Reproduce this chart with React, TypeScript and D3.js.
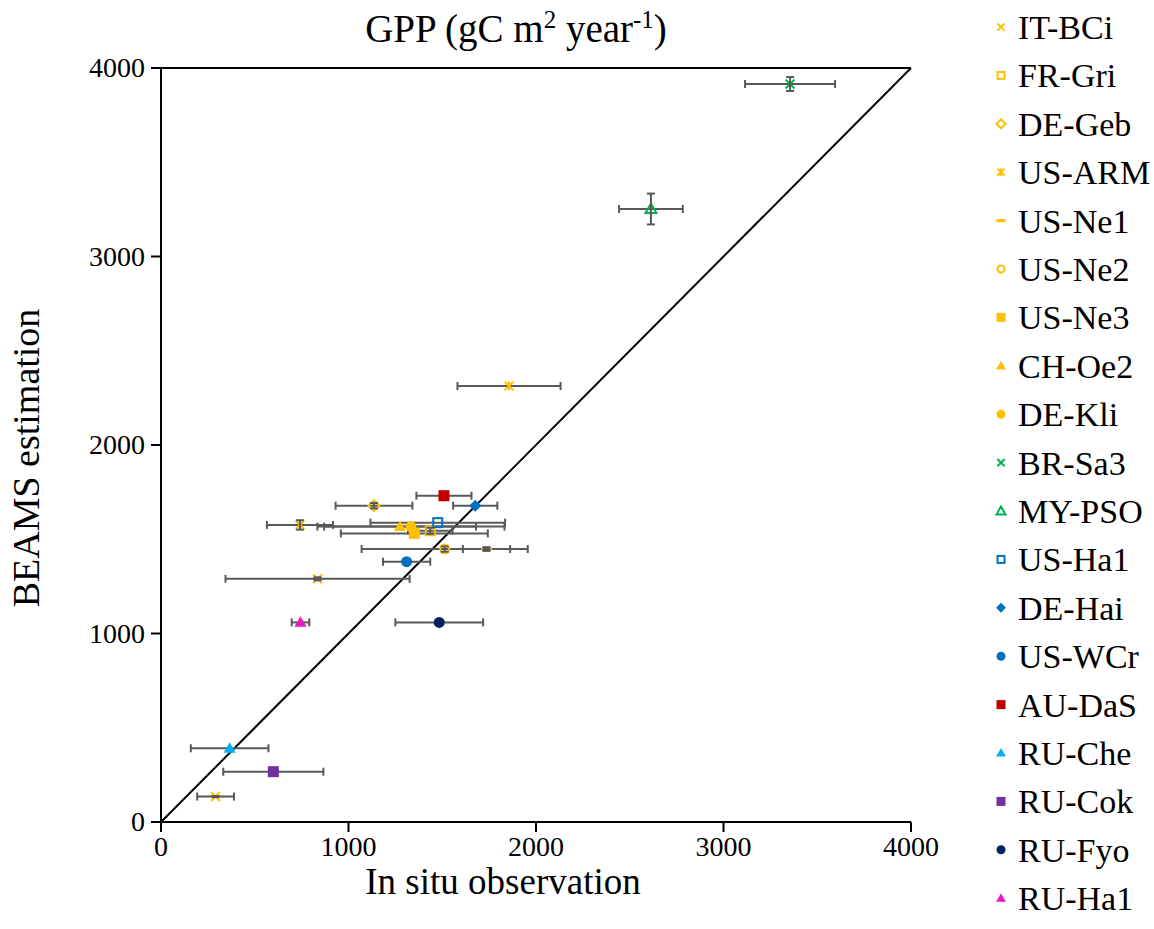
import React from "react";
import * as d3 from "d3";

// Sites shown in the legend, with their colour and marker style
const siteNames = [
  "IT-BCi", "FR-Gri", "DE-Geb", "US-ARM", "US-Ne1", "US-Ne2", "US-Ne3", "CH-Oe2", "DE-Kli",
  "BR-Sa3", "MY-PSO", "US-Ha1", "DE-Hai", "US-WCr", "AU-DaS", "RU-Che", "RU-Cok", "RU-Fyo", "RU-Ha1",
];
const siteColors = [
  "#FFC000", "#FFC000", "#FFC000", "#FFC000", "#FFC000", "#FFC000", "#FFC000", "#FFC000", "#FFC000",
  "#00B050", "#00B050", "#0070C0", "#0070C0", "#0070C0", "#C00000", "#00B0F0", "#7030A0", "#002060", "#E31BC4",
];
const siteMarkers = [
  "x", "squareOpen", "diamondOpen", "asterisk", "dash", "circleOpen", "square", "triangle", "circle",
  "x", "triangleOpen", "squareOpen", "diamond", "circle", "square", "triangle", "square", "circle", "triangle",
];

// Site-years: in situ GPP vs BEAMS estimate, with standard deviations
const pointSite = [
  "IT-BCi", "IT-BCi", "US-ARM", "US-ARM", "FR-Gri", "DE-Geb", "US-Ne1", "US-Ne2", "US-Ne3", "CH-Oe2", "DE-Kli",
  "BR-Sa3", "MY-PSO", "US-Ha1", "DE-Hai", "US-WCr", "AU-DaS", "RU-Che", "RU-Cok", "RU-Fyo", "RU-Ha1",
];
const pointObs = [835, 291, 1856, 741, 1436, 1136, 1736, 1513, 1351, 1275, 1333, 3355, 2613, 1476, 1676, 1310, 1509, 366, 599, 1484, 744];
const pointEst = [1290, 135, 2313, 1576, 1545, 1678, 1448, 1448, 1531, 1567, 1567, 3915, 3252, 1588, 1678, 1381, 1731, 391, 267, 1059, 1059];
const pointObsSd = [491, 98, 275, 176, 119, 205, 126, 443, 392, 405, 499, 240, 170, 359, 118, 126, 147, 207, 267, 234, 47];
const pointEstSd = [8, 3, 0, 25, 16, 14, 10, 14, 0, 0, 0, 37, 82, 0, 0, 0, 0, 0, 0, 0, 0];

const axisTicks = [0, 1000, 2000, 3000, 4000];

const W = 1154;
const H = 929;
const plot = { left: 161, right: 911, top: 68, bottom: 822 };
const FONT = "'Liberation Serif', 'Times New Roman', serif";
const ERR = "#595959";

function Marker({ kind, color, cx, cy, s }: { kind: string; color: string; cx: number; cy: number; s: number }) {
  const h = s / 2;
  switch (kind) {
    case "x": {
      const k = h * 0.8;
      return (
        <path d={`M${cx - k},${cy - k}L${cx + k},${cy + k}M${cx - k},${cy + k}L${cx + k},${cy - k}`} stroke={color} strokeWidth={2} fill="none" />
      );
    }
    case "asterisk": {
      const k = h * 0.8;
      return (
        <path
          d={`M${cx - k},${cy - k}L${cx + k},${cy + k}M${cx - k},${cy + k}L${cx + k},${cy - k}M${cx},${cy - k}L${cx},${cy + k}`}
          stroke={color}
          strokeWidth={2}
          fill="none"
        />
      );
    }
    case "dash":
      return <rect x={cx - h} y={cy - 1.5} width={s} height={3} fill={color} />;
    case "square":
      return <rect x={cx - h} y={cy - h} width={s} height={s} fill={color} />;
    case "squareOpen":
      return <rect x={cx - h + 1} y={cy - h + 1} width={s - 2} height={s - 2} fill="none" stroke={color} strokeWidth={2} />;
    case "circle":
      return <circle cx={cx} cy={cy} r={h} fill={color} />;
    case "circleOpen":
      return <circle cx={cx} cy={cy} r={h - 1} fill="none" stroke={color} strokeWidth={2} />;
    case "diamond":
      return <path d={`M${cx},${cy - h * 1.1}L${cx + h * 1.1},${cy}L${cx},${cy + h * 1.1}L${cx - h * 1.1},${cy}Z`} fill={color} />;
    case "diamondOpen":
      return (
        <path d={`M${cx},${cy - h}L${cx + h},${cy}L${cx},${cy + h}L${cx - h},${cy}Z`} fill="none" stroke={color} strokeWidth={2} />
      );
    case "triangle":
      return <path d={`M${cx},${cy - h * 1.1}L${cx + h * 1.1},${cy + h * 0.8}L${cx - h * 1.1},${cy + h * 0.8}Z`} fill={color} />;
    case "triangleOpen":
      return (
        <path
          d={`M${cx},${cy - h}L${cx + h},${cy + h * 0.75}L${cx - h},${cy + h * 0.75}Z`}
          fill="none"
          stroke={color}
          strokeWidth={2}
        />
      );
    default:
      return null;
  }
}

export default function App() {
  const x = d3.scaleLinear().domain([0, 4000]).range([plot.left, plot.right]);
  const y = d3.scaleLinear().domain([0, 4000]).range([plot.bottom, plot.top]);
  const cap = 4;

  const pts = pointSite.map((site, i) => {
    const k = siteNames.indexOf(site);
    return {
      color: siteColors[k],
      kind: siteMarkers[k],
      px: x(pointObs[i]),
      py: y(pointEst[i]),
      x0: x(pointObs[i] - pointObsSd[i]),
      x1: x(pointObs[i] + pointObsSd[i]),
      y0: y(pointEst[i] - pointEstSd[i]),
      y1: y(pointEst[i] + pointEstSd[i]),
      hasY: pointEstSd[i] > 0,
    };
  });

  const legendTop = 27;
  const legendStep = 48.4;

  return (
    <div style={{ position: "absolute", left: 0, top: 0 }}>
      <svg width={W} height={H} style={{ display: "block", background: "#fff" }}>
        {/* plot frame */}
        <line x1={plot.left} x2={plot.right} y1={plot.top} y2={plot.top} stroke="#000" strokeWidth={2} />
        <line x1={plot.left} x2={plot.left} y1={plot.top} y2={plot.bottom} stroke="#000" strokeWidth={2} />
        <line x1={plot.left} x2={plot.right} y1={plot.bottom} y2={plot.bottom} stroke="#000" strokeWidth={2} />

        {/* ticks and labels */}
        {axisTicks.map((t) => (
          <g key={"x" + t}>
            <line x1={x(t)} x2={x(t)} y1={plot.bottom} y2={plot.bottom + 10} stroke="#000" strokeWidth={2} />
            <text x={x(t)} y={plot.bottom + 34} textAnchor="middle" fontFamily={FONT} fontSize={28} fill="#000">
              {t}
            </text>
          </g>
        ))}
        {axisTicks.map((t) => (
          <g key={"y" + t}>
            <line x1={plot.left - 10} x2={plot.left} y1={y(t)} y2={y(t)} stroke="#000" strokeWidth={2} />
            <text x={plot.left - 16} y={y(t) + 9} textAnchor="end" fontFamily={FONT} fontSize={28} fill="#000">
              {t}
            </text>
          </g>
        ))}

        {/* 1:1 line */}
        <line x1={x(0)} y1={y(0)} x2={x(4000)} y2={y(4000)} stroke="#000" strokeWidth={2} />

        {/* horizontal error bars */}
        {pts.map((p, i) => (
          <g key={"ex" + i} stroke={ERR} strokeWidth={2} fill="none">
            <line x1={p.x0} x2={p.x1} y1={p.py} y2={p.py} />
            <line x1={p.x0} x2={p.x0} y1={p.py - cap} y2={p.py + cap} />
            <line x1={p.x1} x2={p.x1} y1={p.py - cap} y2={p.py + cap} />
          </g>
        ))}

        {/* markers */}
        {pts.map((p, i) => (
          <Marker key={"m" + i} kind={p.kind} color={p.color} cx={p.px} cy={p.py} s={11} />
        ))}

        {/* vertical error bars; very short ones merge into a solid block */}
        {pts
          .filter((p) => p.hasY)
          .map((p, i) => (
            <g key={"ey" + i} stroke={ERR} strokeWidth={2} fill="none">
              {p.y0 - p.y1 < 4 && (
                <rect x={p.px - cap} y={p.y1} width={cap * 2} height={p.y0 - p.y1} fill={ERR} stroke="none" />
              )}
              <line x1={p.px} x2={p.px} y1={p.y0} y2={p.y1} />
              <line x1={p.px - cap} x2={p.px + cap} y1={p.y0} y2={p.y0} />
              <line x1={p.px - cap} x2={p.px + cap} y1={p.y1} y2={p.y1} />
            </g>
          ))}

        {/* titles */}
        <text x={516} y={42} textAnchor="middle" fontFamily={FONT} fontSize={39} fill="#000">
          GPP (gC m<tspan fontSize={25} dy={-14}>2</tspan>
          <tspan dy={14}> year</tspan>
          <tspan fontSize={25} dy={-14}>-1</tspan>
          <tspan dy={14}>)</tspan>
        </text>
        <text x={503} y={894} textAnchor="middle" fontFamily={FONT} fontSize={37} fill="#000">
          In situ observation
        </text>
        <text
          transform={`translate(39, ${(plot.top + plot.bottom) / 2 + 13}) rotate(-90)`}
          textAnchor="middle"
          fontFamily={FONT}
          fontSize={38}
          fill="#000"
        >
          BEAMS estimation
        </text>

        {/* legend */}
        {siteNames.map((name, i) => {
          const cy = legendTop + i * legendStep;
          return (
            <g key={name}>
              <Marker kind={siteMarkers[i]} color={siteColors[i]} cx={1001} cy={cy} s={9} />
              <text x={1018} y={cy + 12} fontFamily={FONT} fontSize={34} fill="#000">
                {name}
              </text>
            </g>
          );
        })}
      </svg>
    </div>
  );
}
